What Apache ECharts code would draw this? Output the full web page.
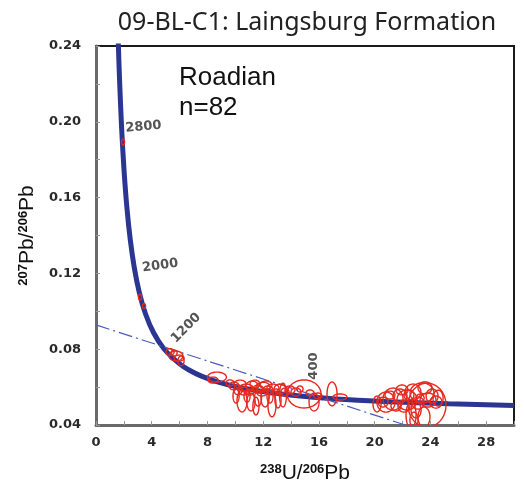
<!DOCTYPE html>
<html>
<head>
<meta charset="utf-8">
<script src="https://cdn.jsdelivr.net/npm/echarts@6/dist/echarts.min.js"></script>
<style>
html,body{margin:0;padding:0;background:#fff;}
#c{width:524px;height:492px;}
</style>
</head>
<body>
<div id="c"></div>
<script>
// Concordia curve (Tera-Wasserburg), ages in Ma
const concAge = [3150, 3000, 2800, 2600, 2400, 2200, 2000, 1800, 1600, 1400, 1200, 1000, 900, 800, 700, 600, 500, 400, 350, 300, 250, 211];
const concX = [1.587, 1.688, 1.838, 2.013, 2.217, 2.459, 2.749, 3.105, 3.550, 4.123, 4.888, 5.960, 6.674, 7.568, 8.718, 10.252, 12.399, 15.621, 17.923, 20.992, 25.290, 30.000];
const concY = [0.2446, 0.2227, 0.1968, 0.1744, 0.1548, 0.1378, 0.1230, 0.1100, 0.0987, 0.0888, 0.0801, 0.0725, 0.0690, 0.0658, 0.0628, 0.0599, 0.0572, 0.0547, 0.0535, 0.0523, 0.0512, 0.0503];

// Age labels on concordia
const ageLabels = [2800, 2000, 1200, 400];

// Discordia (dash-dot) line
const discX = [0, 22.2];
const discY = [0.0928, 0.0400];

// Error ellipses: centre and half-axes
const ellX  = [1.94, 3.16, 3.45, 5.31, 5.74, 6.10, 5.60, 5.96, 8.68, 8.40, 9.90, 10.34, 10.77, 11.20, 11.63, 11.99, 12.34, 12.70, 12.92, 11.05, 11.91, 10.62, 10.48, 11.12, 11.63, 12.63, 13.42, 12.13, 10.05, 14.93, 15.65, 14.35, 13.92, 15.36, 15.93, 16.94, 17.51, 14.64, 20.81, 21.32, 23.76, 23.40, 22.32, 22.61, 23.54, 23.83, 20.60, 20.17, 21.82, 22.75, 23.11, 24.12, 22.10, 21.53, 22.97, 24.40, 21.10, 23.26, 22.46,
               9.62, 10.19, 11.41, 12.20, 13.21, 13.56, 10.84, 12.49, 11.48, 13.06, 21.96, 23.61, 24.55, 22.82];
const ellY  = [0.1893, 0.1075, 0.1028, 0.0785, 0.0764, 0.0738, 0.0780, 0.0753, 0.0653, 0.0637, 0.0606, 0.0616, 0.0595, 0.0606, 0.0590, 0.0600, 0.0585, 0.0595, 0.0574, 0.0574, 0.0569, 0.0579, 0.0527, 0.0521, 0.0542, 0.0506, 0.0558, 0.0542, 0.0553, 0.0564, 0.0521, 0.0574, 0.0585, 0.0569, 0.0553, 0.0564, 0.0548, 0.0590, 0.0521, 0.0537, 0.0505, 0.0569, 0.0532, 0.0453, 0.0442, 0.0532, 0.0521, 0.0511, 0.0553, 0.0574, 0.0516, 0.0553, 0.0500, 0.0500, 0.0479, 0.0521, 0.0558, 0.0542, 0.0558,
               0.0622, 0.0585, 0.0616, 0.0611, 0.0590, 0.0574, 0.0553, 0.0553, 0.0500, 0.0532, 0.0585, 0.0596, 0.0542, 0.0426];
const ellRx = [0.11, 0.11, 0.11, 0.29, 0.50, 0.22, 0.22, 0.36, 0.68, 0.36, 0.36, 0.43, 0.50, 0.43, 0.36, 0.50, 0.36, 0.43, 0.29, 0.29, 0.36, 0.36, 0.36, 0.29, 0.25, 0.29, 0.25, 0.29, 0.22, 1.22, 0.36, 0.36, 0.36, 0.29, 0.29, 0.36, 0.50, 0.22, 0.65, 0.72, 1.36, 0.86, 0.72, 0.36, 0.43, 0.57, 0.36, 0.29, 0.50, 0.57, 0.43, 0.43, 0.43, 0.36, 0.36, 0.43, 0.36, 0.29, 0.36,
               0.29, 0.29, 0.36, 0.43, 0.43, 0.29, 0.22, 0.22, 0.22, 0.22, 0.43, 0.50, 0.36, 0.29];
const ellRy = [0.0016, 0.0016, 0.0013, 0.0018, 0.0026, 0.0026, 0.0016, 0.0016, 0.0026, 0.0016, 0.0021, 0.0021, 0.0021, 0.0026, 0.0021, 0.0026, 0.0021, 0.0021, 0.0016, 0.0016, 0.0016, 0.0021, 0.0058, 0.0047, 0.0042, 0.0063, 0.0063, 0.0047, 0.0037, 0.0074, 0.0047, 0.0021, 0.0021, 0.0016, 0.0016, 0.0063, 0.0016, 0.0016, 0.0053, 0.0058, 0.0116, 0.0053, 0.0053, 0.0069, 0.0053, 0.0037, 0.0026, 0.0042, 0.0037, 0.0042, 0.0032, 0.0037, 0.0032, 0.0026, 0.0042, 0.0032, 0.0021, 0.0021, 0.0026,
               0.0016, 0.0026, 0.0021, 0.0021, 0.0026, 0.0021, 0.0032, 0.0037, 0.0047, 0.0042, 0.0026, 0.0032, 0.0042, 0.0042];

// Axis ticks
const xTicks = {min: 0, max: 30, step: 2, labelStep: 4};
const yTicks = {min: 0.04, max: 0.24, step: 0.02, labelStep: 0.04};

const titleText = '09-BL-C1: Laingsburg Formation';
const noteText = 'Roadian\nn=82';

const chart = echarts.init(document.getElementById('c'), null, {renderer: 'canvas'});

const concData = concX.map((x, i) => [x, concY[i]]);
const discData = discX.map((x, i) => [x, discY[i]]);
const ellData = ellX.map((x, i) => [x, ellY[i], ellRx[i], ellRy[i]]);

const labelCfg = {
  2800: {pos: [22, -1], rot: 5},
  2000: {pos: [26, -2], rot: 8},
  1200: {pos: [22, -21], rot: 45},
  400: {pos: [0, -31], rot: 90}
};
const ageData = ageLabels.map(a => {
  const i = concAge.indexOf(a);
  const c = labelCfg[a];
  return {
    value: [concX[i], concY[i]],
    label: {show: true, formatter: String(a), position: c.pos, rotate: c.rot}
  };
});

const labelFont = {fontFamily: 'DejaVu Sans', fontWeight: 'bold', fontSize: 13, color: '#2a2a2a'};

function isMultiple(v, step, min) {
  const k = (v - min) / step;
  return Math.abs(k - Math.round(k)) < 1e-6;
}

chart.setOption({
  animation: false,
  backgroundColor: '#fff',
  grid: {left: 96, right: 10, top: 46, bottom: 67, show: true, borderColor: '#1a1a1a', borderWidth: 2, backgroundColor: 'transparent'},
  xAxis: {
    type: 'value', min: xTicks.min, max: xTicks.max, interval: xTicks.step,
    name: '{s|238}{m|U/}{s|206}{m|Pb}', nameLocation: 'middle', nameGap: 38,
    nameTextStyle: {rich: {
      s: {fontFamily: 'Liberation Sans', fontSize: 13, fontWeight: 'bold', color: '#111', verticalAlign: 'top', padding: [0, 0, 8, 0]},
      m: {fontFamily: 'Liberation Sans', fontSize: 21, color: '#111'}
    }},
    axisLine: {show: true, onZero: false, lineStyle: {color: '#6a6a6a', width: 3}},
    axisTick: {show: true, inside: true, length: 4, lineStyle: {color: '#999', width: 1}},
    axisLabel: Object.assign({margin: 11, formatter: v => isMultiple(v, xTicks.labelStep, xTicks.min) ? String(Math.round(v)) : ''}, labelFont),
    splitLine: {show: false}
  },
  yAxis: {
    type: 'value', min: yTicks.min, max: yTicks.max, interval: yTicks.step,
    name: '{s|207}{m|Pb/}{s|206}{m|Pb}', nameLocation: 'middle', nameGap: 57, nameRotate: 90,
    nameTextStyle: {rich: {
      s: {fontFamily: 'Liberation Sans', fontSize: 13, fontWeight: 'bold', color: '#111', verticalAlign: 'top', padding: [0, 0, 8, 0]},
      m: {fontFamily: 'Liberation Sans', fontSize: 21, color: '#111'}
    }},
    axisLine: {show: true, onZero: false, lineStyle: {color: '#6a6a6a', width: 3}},
    axisTick: {show: true, inside: true, length: 4, lineStyle: {color: '#999', width: 1}},
    axisLabel: Object.assign({margin: 15, formatter: v => isMultiple(v, yTicks.labelStep, yTicks.min) ? v.toFixed(2) : ''}, labelFont),
    splitLine: {show: false}
  },
  graphic: [
    {type: 'text', x: 307, y: 23, style: {text: titleText, fill: '#222', font: '25px "Noto Sans"', textAlign: 'center', textVerticalAlign: 'middle'}},
    {type: 'text', x: 179, y: 63, style: {text: noteText, fill: '#111', font: '26px "Liberation Sans"', lineHeight: 30, textAlign: 'left', textVerticalAlign: 'top'}}
  ],
  series: [
    {
      type: 'line', data: concData, showSymbol: false, smooth: 0.3, clip: true, z: 2,
      lineStyle: {color: '#2b3592', width: 5}
    },
    {
      type: 'line', data: discData, showSymbol: false, clip: true, z: 3,
      lineStyle: {color: '#4a5bbb', width: 1.2, type: [14, 4, 2, 4]}
    },
    {
      type: 'custom', clip: true, z: 4,
      data: ellData,
      encode: {x: 0, y: 1},
      renderItem: function (params, api) {
        const c = api.coord([api.value(0), api.value(1)]);
        const s = api.size([api.value(2), api.value(3)]);
        const pts = [];
        for (let k = 0; k < 48; k++) {
          const t = k / 48 * Math.PI * 2;
          pts.push([c[0] + s[0] * Math.cos(t), c[1] + s[1] * Math.sin(t)]);
        }
        return {type: 'polygon', shape: {points: pts}, style: {fill: 'none', stroke: '#e6291f', lineWidth: 1.4}};
      }
    },
    {
      type: 'scatter', data: ageData, symbolSize: 0.1, z: 5,
      itemStyle: {color: 'transparent'},
      label: Object.assign({align: 'center', verticalAlign: 'middle', fontSize: 13}, labelFont)
    }
  ]
});
</script>
</body>
</html>
